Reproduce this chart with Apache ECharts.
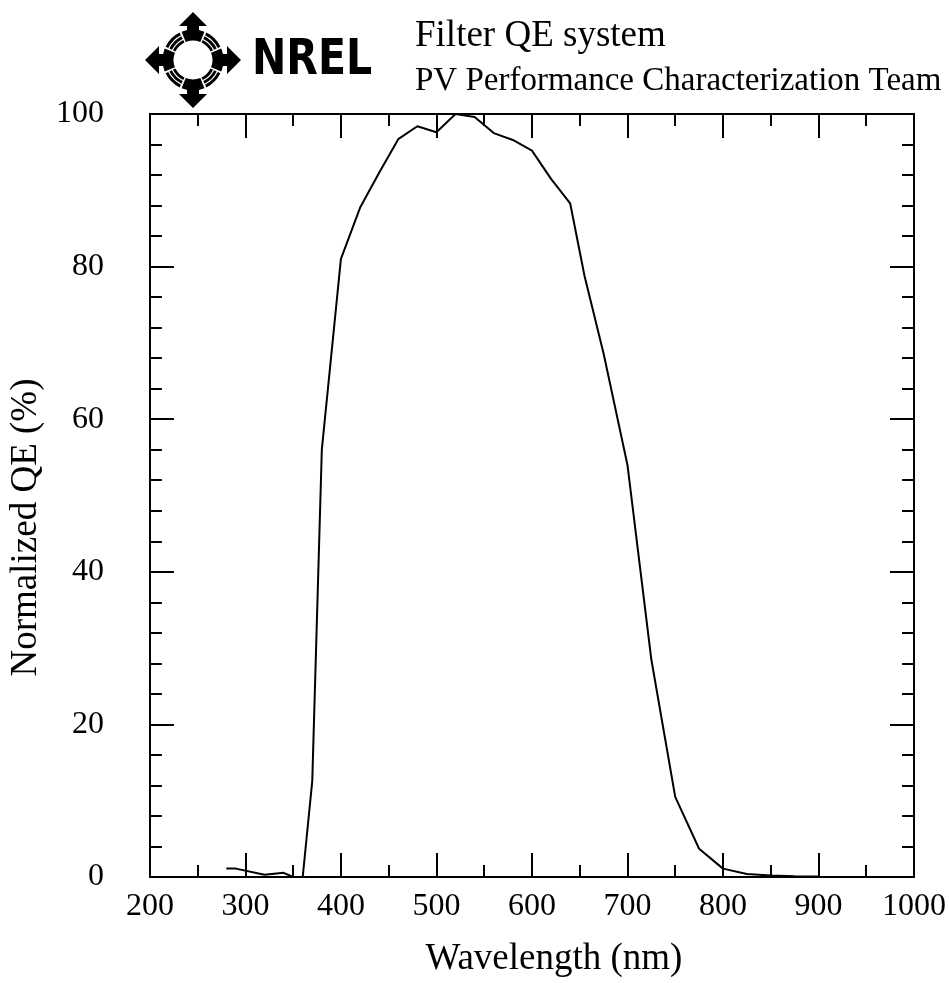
<!DOCTYPE html>
<html>
<head>
<meta charset="utf-8">
<script src="https://cdn.jsdelivr.net/npm/echarts@6/dist/echarts.min.js"></script>
<style>
html,body{margin:0;padding:0;background:#fff;}
#chart{width:949px;height:983px;}
</style>
</head>
<body>
<div id="chart"></div>
<script>
// ---- data ----
const wavelength = [280, 290, 320, 340, 350, 360, 370, 380, 400, 420, 440, 460, 480, 500, 520, 540, 560, 580, 600, 620, 640, 655, 675, 700, 725, 750, 775, 800, 825, 850, 875, 900];
const normalizedQE = [1.1, 1.1, 0.3, 0.55, 0.0, 0.0, 12.6, 56.0, 81.0, 87.7, 92.3, 96.7, 98.4, 97.6, 100.0, 99.6, 97.5, 96.6, 95.2, 91.5, 88.3, 78.8, 68.6, 54.0, 28.5, 10.5, 3.7, 1.1, 0.4, 0.2, 0.1, 0.05];
const xTicks = [200, 300, 400, 500, 600, 700, 800, 900, 1000];
const yTicks = [0, 20, 40, 60, 80, 100];
const titleText = 'Filter QE system';
const subtitleText = 'PV Performance Characterization Team';
const logoText = 'NREL';
const xName = 'Wavelength (nm)';
const yName = 'Normalized QE (%)';

const serif = '"Liberation Serif", "Times New Roman", serif';
const seriesData = wavelength.map((w, i) => [w, normalizedQE[i]]);

function axisCommon(isX, showLabel, pos) {
  const ticks = isX ? xTicks : yTicks;
  return {
    type: 'value',
    position: pos,
    min: ticks[0],
    max: ticks[ticks.length - 1],
    interval: ticks[1] - ticks[0],
    axisLine: { show: true, onZero: false, lineStyle: { color: '#000', width: 2 } },
    axisTick: { show: true, inside: true, length: 24, lineStyle: { color: '#000', width: 2 } },
    minorTick: { show: true, splitNumber: isX ? 2 : 5, length: 12, lineStyle: { color: '#000', width: 2 } },
    splitLine: { show: false },
    minorSplitLine: { show: false },
    axisLabel: {
      show: showLabel,
      color: '#000',
      fontFamily: serif,
      fontSize: 32,
      margin: isX ? 14 : 46,
      formatter: v => String(v)
    }
  };
}

// logo graphic (decorative)
const cx = 193, cy = 60;
const logo = [];
const deg = Math.PI / 180;
[0, 90, 180, 270].forEach(a => {
  logo.push({ type: 'sector', shape: { cx, cy, r0: 19.5, r: 30.5, startAngle: (a - 22) * deg, endAngle: (a + 22) * deg }, style: { fill: '#000' } });
});
[45, 135, 225, 315].forEach(a => {
  [[19.5, 22.3], [23.5, 26.3], [27.5, 30.5]].forEach(rr => {
    logo.push({ type: 'sector', shape: { cx, cy, r0: rr[0], r: rr[1], startAngle: (a - 19) * deg, endAngle: (a + 19) * deg }, style: { fill: '#000' } });
  });
});
const arrowBase = [[0, -48], [14, -34], [6, -34], [6, -28], [-6, -28], [-6, -34], [-14, -34]];
[0, 90, 180, 270].forEach(a => {
  const c = Math.cos(a * deg), s = Math.sin(a * deg);
  const pts = arrowBase.map(p => [cx + p[0] * c - p[1] * s, cy + p[0] * s + p[1] * c]);
  logo.push({ type: 'polygon', shape: { points: pts }, style: { fill: '#000' } });
});
logo.push({
  type: 'text', x: 252, y: 61, scaleX: 0.82,
  style: { text: logoText, x: 0, y: 0, fill: '#000', font: 'bold 50px "DejaVu Sans", sans-serif', align: 'left', verticalAlign: 'middle' }
});
logo.push({
  type: 'text', x: 415, y: 36,
  style: { text: titleText, fill: '#000', font: '37px ' + serif, align: 'left', verticalAlign: 'middle' }
});
logo.push({
  type: 'text', x: 415, y: 81,
  style: { text: subtitleText, fill: '#000', font: '33px ' + serif, align: 'left', verticalAlign: 'middle' }
});

const chart = echarts.init(document.getElementById('chart'), null, { renderer: 'canvas' });
const xBottom = Object.assign(axisCommon(true, true, 'bottom'), {
  name: xName, nameLocation: 'middle', nameGap: 64,
  nameTextStyle: { color: '#000', fontFamily: serif, fontSize: 37, padding: [0, 0, 0, 44] }
});
const xTop = axisCommon(true, false, 'top');
const yLeft = Object.assign(axisCommon(false, true, 'left'), {
  name: yName, nameLocation: 'middle', nameGap: 98,
  nameTextStyle: { color: '#000', fontFamily: serif, fontSize: 37, padding: [0, 64, 0, 0] }
});
const yRight = axisCommon(false, false, 'right');

chart.setOption({
  backgroundColor: '#fff',
  animation: false,
  grid: { left: 146, right: 34, top: 114, bottom: 101, containLabel: false },
  xAxis: [xBottom, xTop],
  yAxis: [yLeft, yRight],
  graphic: logo,
  series: [{
    type: 'line',
    xAxisIndex: 0,
    yAxisIndex: 0,
    data: seriesData,
    showSymbol: false,
    symbol: 'none',
    lineStyle: { color: '#000', width: 2 },
    clip: true
  }]
});
</script>
</body>
</html>
